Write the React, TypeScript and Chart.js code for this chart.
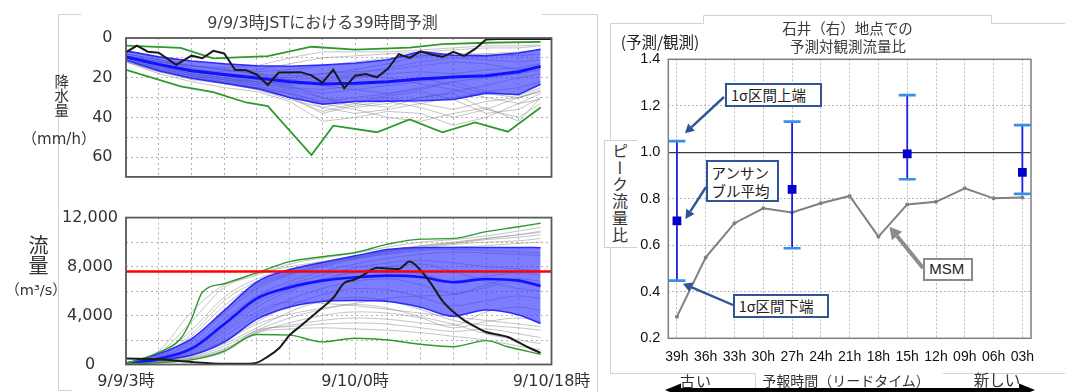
import React, { useEffect, useRef } from 'react';
import { Chart, registerables } from 'chart.js';

Chart.register(...registerables);

const JP = "'Noto Sans CJK JP', sans-serif";
const MIX = "'DejaVu Sans', 'Noto Sans CJK JP', sans-serif";
const LAT = "'Liberation Sans', Arial, sans-serif";

// ---------- rainfall forecast (mm/h), hours after 9/9 03:00 JST ----------
const rainHours = [0, 3, 6, 9, 12, 15, 18, 21, 24, 27, 30, 33, 36, 38];
const rainMean = [9.5, 13.3, 16.5, 18.4, 20.2, 22.0, 23.2, 22.8, 22.0, 20.7, 19.6, 19.0, 17.0, 14.3];
const rainBandLow = [6.5, 9.5, 11.6, 13.0, 14.0, 14.2, 13.6, 12.7, 11.0, 6.8, 8.7, 9.0, 7.6, 5.7];
const rainBandHigh = [11.2, 16.5, 20.3, 22.8, 25.5, 30.0, 33.3, 32.0, 31.8, 31.6, 31.0, 27.8, 28.5, 23.3];
const rainMinHours = [0, 5, 8, 13, 17, 21, 26, 29, 33, 38];
const rainMin = [3.8, 5.0, 10.3, 9.1, 4.4, 5.9, 4.8, 3.1, 2.4, 2.0];
const rainMaxHours = [0, 5, 8, 11, 13, 17, 19, 23, 26, 29, 32, 35, 38];
const rainMax = [16, 24.4, 27.3, 32.5, 34.3, 59, 44.2, 47.5, 41, 47.5, 42.5, 47.2, 35];
const obsRainHours = [0, 1, 2, 3, 4.6, 6, 7, 8, 9, 10, 11, 12, 13, 14, 16, 17, 18, 19, 20, 21, 22, 23, 24, 25, 26, 27, 28, 29, 30, 31, 32, 33, 34, 39];
const obsRain = [7.2, 3.8, 6.9, 7.4, 13.5, 8.9, 10.2, 6.5, 7.8, 16, 16.2, 18.5, 23.7, 17.4, 17.2, 18.8, 22.5, 16, 25.3, 19, 18.2, 19.8, 15.5, 8.2, 10, 6.7, 8.3, 9.6, 7, 9, 5.5, 0.8, 0.5, 0.5];
const rainMembers = [
  [9, 12, 14, 15, 14, 10, 7, 7, 7, 6, 5, 4, 4, 3.5],
  [10, 13, 16, 17, 16, 13, 10, 9, 8, 7, 6, 5, 5, 4],
  [8, 11, 14, 16, 17, 16, 14, 12, 10, 9, 9, 8, 7, 6],
  [11, 15, 18, 20, 22, 24, 22, 20, 18, 17, 18, 16, 15, 13],
  [10, 14, 17, 19, 21, 25, 28, 26, 24, 22, 20, 19, 17, 15],
  [12, 17, 21, 23, 25, 28, 32, 30, 28, 26, 22, 20, 18, 16],
  [9, 13, 17, 19, 22, 26, 30, 35, 33, 30, 27, 24, 20, 18],
  [11, 16, 20, 22, 24, 28, 35, 38, 36, 33, 30, 27, 25, 22],
  [10, 15, 19, 22, 25, 30, 38, 34, 32, 35, 40, 36, 30, 27],
  [12, 18, 22, 25, 27, 32, 42, 40, 37, 38, 44, 40, 33, 28],
  [10, 14, 18, 20, 23, 27, 33, 36, 40, 42, 38, 35, 42, 30],
  [9, 13, 16, 18, 20, 24, 30, 33, 35, 30, 28, 36, 40, 33],
  [11, 15, 19, 21, 24, 30, 37, 33, 30, 33, 36, 32, 30, 26],
  [8, 11, 14, 16, 18, 21, 24, 26, 28, 25, 22, 27, 29, 25],
  [10, 14, 17, 19, 20, 21, 20, 18, 15, 12, 10, 11, 12, 11],
  [9, 12, 15, 18, 19, 20, 18, 16, 13, 9, 8, 8, 9, 8],
  [10, 14, 18, 21, 23, 25, 26, 24, 22, 20, 24, 28, 30, 27],
  [11, 16, 19, 21, 22, 23, 21, 19, 20, 23, 26, 30, 33, 31],
  [9, 12, 14, 16, 18, 19, 18, 17, 16, 14, 12, 13, 16, 14],
  [12, 17, 20, 23, 26, 31, 35, 32, 29, 27, 31, 38, 36, 30],
];
const rainTickValues = [0, 20, 40, 60];

// ---------- river discharge forecast (m3/s) ----------
const flowHours = [0, 3, 6, 9, 12, 15, 18, 21, 24, 27, 30, 33, 36, 38];
const flowMean = [80, 470, 1290, 3300, 5400, 6300, 6850, 7120, 7260, 7150, 6720, 6980, 6850, 6420];
const flowBandHigh = [100, 880, 2100, 4400, 6750, 7740, 8340, 8880, 9400, 9560, 9560, 9560, 9560, 9540];
const flowBandLow = [30, 340, 750, 1830, 3700, 4700, 5140, 5220, 5140, 4680, 3950, 4450, 4050, 3350];
const flowMaxHours = [0, 3, 5, 6, 7, 9, 12, 15, 18, 21, 24, 27, 30, 33, 36, 38];
const flowMax = [60, 1000, 2100, 3700, 5900, 6600, 7500, 8400, 8800, 9150, 9830, 10240, 10300, 10850, 11250, 11540];
const flowMinHours = [0, 3, 6, 9, 12, 15, 18, 21, 24, 27, 30, 33, 35, 38];
const flowMin = [60, 150, 380, 1100, 2450, 2400, 1850, 2150, 2000, 1650, 1450, 1950, 1450, 830];
const obsFlowHours = [0, 3, 6, 9, 11, 12, 13, 14, 15, 16, 17, 18, 19, 20, 21, 22, 23, 24, 25, 26, 27, 28, 29, 30, 31, 32, 33, 34, 35, 36, 37, 38];
const obsFlow = [480, 420, 200, 60, 60, 150, 650, 1300, 2400, 3150, 3900, 4650, 5450, 6650, 6950, 7450, 7900, 7850, 7800, 8420, 7700, 6550, 5200, 4300, 3600, 3100, 2650, 2450, 2250, 1800, 1350, 950];
const flowMembers = [
  [60, 900, 3500, 6300, 7300, 8200, 8700, 9100, 9600, 10000, 10200, 10500, 10900, 11200],
  [60, 700, 2800, 5500, 7000, 7800, 8400, 8900, 9300, 9700, 9900, 10200, 10400, 10600],
  [60, 600, 2300, 4800, 6600, 7500, 8200, 8800, 9200, 9500, 9800, 10000, 10100, 10300],
  [60, 500, 1800, 4200, 6200, 7300, 8000, 8600, 9100, 9400, 9600, 9700, 9900, 10000],
  [60, 450, 1500, 3700, 5600, 6800, 7600, 8200, 8700, 9000, 9200, 9100, 9000, 8900],
  [60, 400, 1300, 3200, 5200, 6500, 7300, 7900, 8300, 8500, 8300, 8000, 7800, 7600],
  [60, 350, 1100, 2800, 4700, 6000, 6900, 7500, 7700, 7400, 6800, 7200, 7500, 7300],
  [60, 300, 900, 2300, 4000, 5300, 6200, 6800, 7000, 6500, 5800, 6300, 6800, 6600],
  [60, 280, 800, 2000, 3500, 4800, 5700, 6200, 6100, 5500, 4800, 5200, 5600, 5400],
  [60, 250, 700, 1700, 3000, 4300, 5200, 5500, 5200, 4500, 3600, 3200, 3000, 2800],
  [60, 220, 600, 1500, 2800, 3800, 4500, 4900, 4600, 3900, 3300, 2500, 2000, 1700],
  [60, 200, 550, 1300, 2600, 3400, 4000, 4300, 4200, 3800, 3000, 3500, 3800, 3500],
  [60, 180, 500, 1200, 2700, 3200, 3600, 3800, 3700, 3400, 3200, 4300, 4700, 4400],
  [60, 160, 450, 1100, 2800, 3100, 3300, 3400, 3300, 3000, 2700, 2900, 2500, 2200],
  [60, 150, 400, 1000, 2600, 2900, 3000, 2900, 2800, 2600, 2300, 2000, 1500, 1200],
  [60, 300, 1000, 2600, 4300, 5100, 5000, 4800, 4500, 4200, 3900, 3600, 3300, 3100],
  [60, 500, 2000, 4500, 6400, 7400, 8100, 8700, 9200, 9600, 9900, 10300, 10600, 10900],
  [60, 350, 1200, 3000, 5000, 6200, 7000, 7600, 8000, 8200, 7600, 6800, 6200, 6000],
  [60, 250, 750, 1900, 3300, 4100, 4600, 5000, 5400, 5600, 5700, 6500, 7000, 6800],
  [60, 600, 2500, 5200, 6800, 7700, 8300, 8700, 9000, 9300, 9400, 9300, 9200, 9100],
  [60, 1100, 4300, 6500, 7400, 8000, 8400, 8800, 9300, 9700, 10000, 10300, 10600, 10800],
];
const warningFlow = 7600;
const flowTickValues = [0, 4000, 8000, 12000];
const timeTickHours = [0, 21, 39];
const timeTickLabels = ['9/9/3時', '9/10/0時', '9/10/18時'];

// ---------- peak-flow ratio (forecast / observed) by lead time ----------
const leadLabels = ['39h', '36h', '33h', '30h', '27h', '24h', '21h', '18h', '15h', '12h', '09h', '06h', '03h'];
const msmRatio = [0.293, 0.548, 0.695, 0.759, 0.741, 0.781, 0.812, 0.637, 0.776, 0.787, 0.845, 0.802, 0.806];
const ensLeads = ['39h', '27h', '15h', '03h'];
const ensMean = [0.705, 0.841, 0.993, 0.914];
const ensUpper = [1.048, 1.132, 1.246, 1.117];
const ensLower = [0.448, 0.587, 0.884, 0.821];
const ratioTicks = [0.2, 0.4, 0.6, 0.8, 1.0, 1.2, 1.4];

const pts = (xs: number[], ys: (number | null)[]) => xs.map((x, i) => ({ x, y: ys[i] }));

const framePlugin = {
  id: 'frame',
  afterDatasetsDraw(chart: any, _args: any, opts: any) {
    const { ctx, chartArea: a } = chart;
    ctx.save();
    ctx.strokeStyle = opts.color;
    ctx.lineWidth = opts.width;
    ctx.strokeRect(a.left, a.top, a.right - a.left, a.bottom - a.top);
    ctx.restore();
  },
};

function drawArrow(ctx: CanvasRenderingContext2D, x1: number, y1: number, x2: number, y2: number, color: string, width: number, head: number) {
  const ang = Math.atan2(y2 - y1, x2 - x1);
  const bx = x2 - head * Math.cos(ang);
  const by = y2 - head * Math.sin(ang);
  const hw = head * 0.55;
  ctx.save();
  ctx.strokeStyle = color;
  ctx.fillStyle = color;
  ctx.lineWidth = width;
  ctx.beginPath();
  ctx.moveTo(x1, y1);
  ctx.lineTo(bx, by);
  ctx.stroke();
  ctx.beginPath();
  ctx.moveTo(x2, y2);
  ctx.lineTo(bx + hw * Math.sin(ang), by - hw * Math.cos(ang));
  ctx.lineTo(bx - hw * Math.sin(ang), by + hw * Math.cos(ang));
  ctx.closePath();
  ctx.fill();
  ctx.restore();
}

const line = (data: any[], color: string, width: number, order: number, extra: any = {}) => ({
  data,
  borderColor: color,
  borderWidth: width,
  pointRadius: 0,
  fill: false,
  order,
  tension: 0,
  ...extra,
});

const baseOptions = {
  animation: false as const,
  responsive: false,
  devicePixelRatio: 1,
  events: [] as any[],
};

const leftGrid = { color: '#b0b0b0', lineWidth: 1, drawTicks: false };
const leftBorder = { display: false, dash: [2, 3] };

function rainConfig(): any {
  return {
    type: 'line',
    data: {
      datasets: [
        ...rainMembers.map((m) => line(pts(rainHours, m), 'rgba(140,140,140,0.5)', 1, 10)),
        line(pts(rainHours, rainBandLow), '#2b2bff', 1.6, 5, { fill: '+1', backgroundColor: 'rgba(45,45,255,0.62)' }),
        line(pts(rainHours, rainBandHigh), '#2b2bff', 1.6, 5),
        line(pts(rainHours, rainMean), '#1212ff', 3, 4),
        line(pts(rainMinHours, rainMin), '#2e9a2e', 1.8, 3),
        line(pts(rainMaxHours, rainMax), '#2e9a2e', 1.8, 3),
        line(pts(obsRainHours, obsRain), '#1a1a1a', 2, 2),
      ],
    },
    options: {
      ...baseOptions,
      layout: { padding: { left: 0, top: 38, right: 48.5, bottom: 14 } },
      plugins: { legend: { display: false }, tooltip: { enabled: false }, frame: { color: '#5a5a5a', width: 1.8 } },
      scales: {
        x: {
          type: 'linear', min: 0, max: 39,
          ticks: { stepSize: 3, display: false },
          grid: leftGrid, border: leftBorder,
          afterFit: (s: any) => { s.height = 0; },
        },
        y: {
          type: 'linear', reverse: true, min: 0, max: 70,
          ticks: {
            stepSize: 10, autoSkip: false, padding: 13.5, color: '#333',
            font: { family: MIX, size: 16 },
            callback: (v: number) => (rainTickValues.includes(v) ? String(v) : ''),
          },
          grid: leftGrid, border: leftBorder,
          afterFit: (s: any) => { s.width = 126; },
        },
      },
    },
    plugins: [framePlugin],
  };
}

function flowConfig(): any {
  const smooth = { cubicInterpolationMode: 'monotone' };
  return {
    type: 'line',
    data: {
      datasets: [
        ...flowMembers.map((m) => line(pts(flowHours, m), 'rgba(140,140,140,0.5)', 1, 10, smooth)),
        line(pts(flowHours, flowBandHigh), '#2b2bff', 1.5, 5, { ...smooth, fill: '+1', backgroundColor: 'rgba(45,45,255,0.62)' }),
        line(pts(flowHours, flowBandLow), '#2b2bff', 1.5, 5, smooth),
        line(pts(flowHours, flowMean), '#1212ff', 2.6, 4, smooth),
        line(pts(flowMaxHours, flowMax), '#2e9a2e', 1.4, 3, smooth),
        line(pts(flowMinHours, flowMin), '#2e9a2e', 1.4, 3, smooth),
        line(pts(obsFlowHours, obsFlow), '#1a1a1a', 2, 2, smooth),
        line(pts([0, 39], [warningFlow, warningFlow]), '#ff0000', 2.6, 1),
      ],
    },
    options: {
      ...baseOptions,
      layout: { padding: { left: 0, top: 17, right: 48.5, bottom: 0 } },
      plugins: { legend: { display: false }, tooltip: { enabled: false }, frame: { color: '#5a5a5a', width: 1.8 } },
      scales: {
        x: {
          type: 'linear', min: 0, max: 39,
          ticks: {
            stepSize: 3, autoSkip: false, maxRotation: 0, padding: 7.5, color: '#333',
            font: { family: MIX, size: 16 },
            callback: (v: number) => {
              const i = timeTickHours.indexOf(v);
              return i >= 0 ? timeTickLabels[i] : '';
            },
          },
          grid: leftGrid, border: leftBorder,
          afterFit: (s: any) => { s.height = 27.5; },
        },
        y: {
          type: 'linear', min: 0, max: 12000,
          ticks: {
            stepSize: 2000, autoSkip: false, padding: 8, crossAlign: 'center', color: '#333',
            font: { family: MIX, size: 16 },
            callback: (v: number) => (flowTickValues.includes(v) ? v.toLocaleString('en-US') : ''),
          },
          grid: leftGrid, border: leftBorder,
          afterFit: (s: any) => { s.width = 126; },
        },
      },
    },
    plugins: [framePlugin],
  };
}

function ratioConfig(): any {
  const ensX = ensLeads.map((l) => leadLabels.indexOf(l));
  const canvasLeft = 600;
  const callouts = [
    { x: ensX[0], y: ensUpper[0], dx: 8, dy: -8, fromX: 724 - canvasLeft, fromY: 97, color: '#2f5597', width: 2.4, head: 9 },
    { x: ensX[0], y: ensMean[0], dx: 8.5, dy: -2, fromX: 706 - canvasLeft, fromY: 187, color: '#2f5597', width: 2.4, head: 9 },
    { x: ensX[0], y: ensLower[0], dx: 6, dy: 3, fromX: 733 - canvasLeft, fromY: 305, color: '#2f5597', width: 2.4, head: 9 },
    { x: leadLabels.indexOf('18h'), y: msmRatio[7], dx: 11, dy: -10, fromX: 923 - canvasLeft, fromY: 268, color: '#8c8c8c', width: 4, head: 12 },
  ];
  const calloutPlugin = {
    id: 'callouts',
    afterDraw(chart: any) {
      const { ctx, scales } = chart;
      callouts.forEach((c) => {
        const tx = scales.x.getPixelForValue(c.x) + c.dx;
        const ty = scales.y.getPixelForValue(c.y) + c.dy;
        drawArrow(ctx, c.fromX, c.fromY, tx, ty, c.color, c.width, c.head);
      });
    },
  };
  const isOne = (c: any) => c.tick && Math.abs(c.tick.value - 1) < 1e-9;
  return {
    type: 'line',
    data: {
      datasets: [
        line(leadLabels.map((_, i) => ({ x: i, y: msmRatio[i] })), '#808080', 2, 5, {
          pointRadius: 2, pointBackgroundColor: '#808080', pointBorderWidth: 0,
        }),
        line(ensX.flatMap((x, i) => [{ x, y: ensLower[i] }, { x, y: ensUpper[i] }, { x, y: null }]), '#1f1fe6', 1.8, 3, { spanGaps: false }),
        line(ensX.flatMap((x, i) => [{ x, y: ensLower[i] }, { x, y: ensUpper[i] }]), '#3a8ee6', 2.6, 2, {
          showLine: false, pointStyle: 'line', pointRadius: 8.5, pointBorderWidth: 2.6, pointBorderColor: '#3a8ee6',
        }),
        line(ensX.map((x, i) => ({ x, y: ensMean[i] })), '#0000c8', 0, 1, {
          showLine: false, pointStyle: 'rect', pointRadius: 6.2, pointBackgroundColor: '#0000c8', pointBorderWidth: 0,
        }),
      ],
    },
    options: {
      ...baseOptions,
      layout: { padding: { left: 0, top: 59.3, right: 34, bottom: 23.7 } },
      plugins: { legend: { display: false }, tooltip: { enabled: false }, frame: { color: '#7f7f7f', width: 1.5 } },
      scales: {
        x: {
          type: 'linear', min: -0.3, max: 12.3,
          afterBuildTicks: (s: any) => { s.ticks = leadLabels.map((_, i) => ({ value: i })); },
          ticks: {
            autoSkip: false, maxRotation: 0, padding: 10, color: '#111',
            font: { family: LAT, size: 14 },
            callback: (v: number) => leadLabels[v] ?? '',
          },
          grid: { color: '#b8b8b8', lineWidth: 1, drawTicks: false },
          border: { display: false, dash: [2, 2] },
          afterFit: (s: any) => { s.height = 30; },
        },
        y: {
          type: 'linear', min: 0.2, max: 1.4,
          afterBuildTicks: (s: any) => { s.ticks = ratioTicks.map((v) => ({ value: v })); },
          ticks: {
            autoSkip: false, padding: 8, color: '#111',
            font: { family: LAT, size: 14.5 },
            callback: (v: number) => v.toFixed(1),
          },
          grid: {
            drawTicks: false,
            color: (c: any) => (isOne(c) ? '#3c3c3c' : '#b8b8b8'),
            lineWidth: (c: any) => (isOne(c) ? 1.2 : 1),
          },
          border: { display: false, dash: (c: any) => (isOne(c) ? [] : [2, 2]) },
          afterFit: (s: any) => { s.width = 68.3; },
        },
      },
    },
    plugins: [framePlugin, calloutPlugin],
  };
}

const Text = ({ x, y, size, children, color = '#333', family = JP, style = {} }: any) => (
  <div
    style={{
      position: 'absolute', left: x, top: y, transform: 'translate(-50%, -50%)',
      fontSize: size, color, fontFamily: family, lineHeight: 1, whiteSpace: 'nowrap', ...style,
    }}
  >
    {children}
  </div>
);

const VText = ({ x, top, size, spacing = 0, children, color = '#333' }: any) => (
  <div
    style={{
      position: 'absolute', left: x, top, transform: 'translateX(-50%)', writingMode: 'vertical-rl',
      fontSize: size, lineHeight: 1, letterSpacing: spacing, color, fontFamily: JP, whiteSpace: 'nowrap',
    }}
  >
    {children}
  </div>
);

const boxBase: any = {
  position: 'absolute', boxSizing: 'border-box', background: '#fff', fontFamily: JP,
  color: '#222', whiteSpace: 'nowrap',
};

export default function App() {
  const rainRef = useRef<HTMLCanvasElement>(null);
  const flowRef = useRef<HTMLCanvasElement>(null);
  const ratioRef = useRef<HTMLCanvasElement>(null);

  useEffect(() => {
    const charts = [
      new Chart(rainRef.current as HTMLCanvasElement, rainConfig()),
      new Chart(flowRef.current as HTMLCanvasElement, flowConfig()),
      new Chart(ratioRef.current as HTMLCanvasElement, ratioConfig()),
    ];
    return () => charts.forEach((c) => c.destroy());
  }, []);

  return (
    <div style={{ position: 'fixed', left: 0, top: 0, width: 1065, height: 392, background: '#fff', overflow: 'hidden' }}>
      <svg width={1065} height={392} style={{ position: 'absolute', left: 0, top: 0 }}>
        <g stroke="#d2d2d2" strokeWidth={1} fill="none">
          <polyline points="81,14.5 58.5,14.5 58.5,390.5 72,390.5" />
          <polyline points="542,14.5 597.5,14.5 597.5,392" />
          <polyline points="610.5,373.5 610.5,23.5 703.5,23.5 703.5,15.5 991.5,15.5 991.5,23.5 1065,23.5" />
          <polyline points="610.5,373.5 755.5,373.5 755.5,392" />
          <line x1={943} y1={373.5} x2={1065} y2={373.5} />
        </g>
        <line x1={678} y1={390} x2={1022} y2={390} stroke="#000" strokeWidth={4} />
        <polygon points="665,390 681,383.5 681,396.5" fill="#000" />
        <polygon points="1035,390 1019,383.5 1019,396.5" fill="#000" />
      </svg>

      <canvas ref={rainRef} width={600} height={200} style={{ position: 'absolute', left: 0, top: 0, width: 600, height: 200 }} />
      <canvas ref={flowRef} width={600} height={192} style={{ position: 'absolute', left: 0, top: 200, width: 600, height: 192 }} />
      <canvas ref={ratioRef} width={465} height={392} style={{ position: 'absolute', left: 600, top: 0, width: 465, height: 392 }} />

      {/* rainfall / discharge panel */}
      <Text x={322.5} y={23} size={16} family={MIX} color="#404040">9/9/3時JSTにおける39時間予測</Text>
      <VText x={61} top={73.5} size={14.5} spacing={0}>降水量</VText>
      <Text x={59} y={139} size={15} family={MIX}>（mm/h）</Text>
      <VText x={38} top={235} size={20}>流量</VText>
      <Text x={36} y={290} size={14.5} family={MIX}>（m³/s）</Text>

      {/* ratio panel */}
      <Text x={847.5} y={28.3} size={14.5} color="#3a3a3a">石井（右）地点での</Text>
      <Text x={848} y={45.7} size={14.5} color="#3a3a3a">予測対観測流量比</Text>
      <Text x={660} y={41.7} size={15.5} color="#222">(予測/観測)</Text>
      <div
        style={{
          position: 'absolute', left: 604, top: 140, width: 33, height: 108, boxSizing: 'border-box',
          background: '#fff', borderLeft: '1px solid #d0d0d0', borderTop: '1px solid #d0d0d0', borderBottom: '1px solid #d0d0d0',
        }}
      />
      <VText x={620} top={143.3} size={16} spacing={0.7} color="#333">ピーク流量比</VText>

      <div style={{ ...boxBase, left: 725, top: 82.7, width: 97, height: 24, border: '2px solid #2f5597', fontSize: 14.5, lineHeight: '20px', paddingLeft: 4 }}>
        1σ区間上端
      </div>
      <div style={{ ...boxBase, left: 706, top: 160, width: 73.3, height: 41.7, border: '2px solid #2f5597', fontSize: 14.5, lineHeight: '18px', paddingLeft: 3.5, paddingTop: 1.5, whiteSpace: 'normal' }}>
        アンサン<br />ブル平均
      </div>
      <div style={{ ...boxBase, left: 732.7, top: 294, width: 96.6, height: 23.7, border: '2px solid #2f5597', fontSize: 14.5, lineHeight: '19.7px', paddingLeft: 4 }}>
        1σ区間下端
      </div>
      <div style={{ ...boxBase, left: 923.3, top: 258.3, width: 49.4, height: 22.4, border: '2px solid #8a8a8a', fontSize: 15, lineHeight: '18.4px', paddingLeft: 4, fontFamily: LAT }}>
        MSM
      </div>

      <Text x={696} y={380} size={15} color="#333" style={{ letterSpacing: 1 }}>古い</Text>
      <Text x={846} y={380} size={14} color="#333">予報時間（リードタイム）</Text>
      <Text x={997} y={380} size={15.5} color="#333">新しい</Text>
    </div>
  );
}
